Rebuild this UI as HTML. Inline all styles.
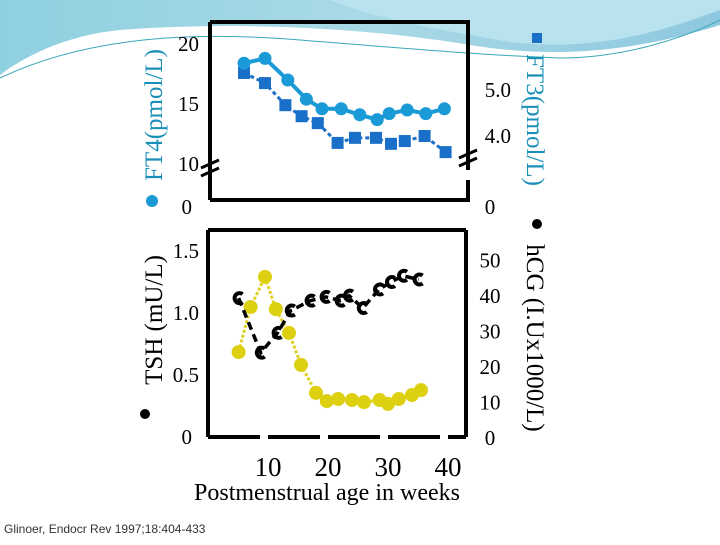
<!DOCTYPE html>
<html><head><meta charset="utf-8"><style>
html,body{margin:0;padding:0;background:#fff}
svg text{font-family:"Liberation Serif",serif}
</style></head><body>
<svg id="c" width="720" height="540" viewBox="0 0 720 540" xmlns="http://www.w3.org/2000/svg">
<defs><linearGradient id="bg" x1="0" y1="0" x2="1" y2="0"><stop offset="0" stop-color="#8fd0e0"/><stop offset="0.5" stop-color="#a9d9e6"/><stop offset="1" stop-color="#8ec8e0"/></linearGradient></defs>
<g>
<path d="M0 0 H720 V25 C640 50 560 60 470 45 C380 30 250 20 120 30 C60 36 20 60 0 75 Z" fill="url(#bg)"/>
<path d="M330 0 C380 20 440 30 510 42 C580 50 640 40 720 10 V0 Z" fill="#b8e2ee"/>
<path d="M0 78 C80 40 180 30 300 40 C400 48 480 55 560 58 C620 58 680 40 720 20" fill="none" stroke="#3aa8b8" stroke-width="1"/>
</g>
<g id="gtop"></g>
<g id="gbot"></g>
<text x="327" y="500" font-size="24" text-anchor="middle">Postmenstrual age in weeks</text>
<text x="4" y="533" font-size="12" style="font-family:'Liberation Sans',sans-serif" fill="#333">Glinoer, Endocr Rev 1997;18:404-433</text>
<text transform="translate(162,115) rotate(-90)" font-size="25" text-anchor="middle" fill="#1a8fb8">FT4(pmol/L)</text>
<circle cx="152" cy="201" r="6" fill="#1a9ad6"/>
<text transform="translate(527,120) rotate(90)" font-size="25" text-anchor="middle" fill="#1a8fb8">FT3(pmol/L)</text>
<rect x="532" y="33" width="10" height="10" fill="#1a6fc8"/>
<text transform="translate(162,320) rotate(-90)" font-size="25" text-anchor="middle">TSH (mU/L)</text>
<circle cx="145" cy="414" r="5" fill="#000"/>
<text transform="translate(527,338) rotate(90)" font-size="25" text-anchor="middle">hCG (I.Ux1000/L)</text>
<circle cx="537" cy="224" r="5" fill="#000"/>
</svg>
<script>
const weeksTop=[6,9.5,13.3,16.4,19,22.2,25.3,28.2,30.2,33.2,36.3,39.4];
const ft4=[18.4,18.8,17.0,15.4,14.6,14.6,14.1,13.7,14.2,14.5,14.2,14.6];
const weeksFt3=[6,9.5,12.9,15.6,18.3,21.6,24.5,28,30.5,32.8,36.1,39.6];
const ft3=[5.37,5.15,4.67,4.43,4.28,3.85,3.96,3.96,3.83,3.89,4.0,3.65];
const weeksHcg=[5.1,7.1,9.5,11.3,13.5,15.5,18,19.8,21.7,24,26,28.6,30,31.8,34,35.5];
const hcg=[24.2,36.9,45.4,36.3,29.6,20.6,12.7,10.4,11.0,10.7,10.1,10.7,9.6,11.0,12.1,13.5];
const weeksTsh=[5.1,8.8,11.6,13.8,17.1,19.6,22.1,23.5,25.8,28.5,30.5,32.5,35.1];
const tsh=[1.12,0.68,0.84,1.02,1.10,1.13,1.10,1.14,1.04,1.19,1.25,1.30,1.27];
const xTicks=[10,20,30,40];
const ft4Ticks=[["20",20],["15",15],["10",10]];
const ft3Ticks=[["5.0",5],["4.0",4]];
const tshTicks=[["1.5",1.5],["1.0",1.0],["0.5",0.5],["0",0]];
const hcgTicks=[["50",50],["40",40],["30",30],["20",20],["10",10],["0",0]];

const X=w=>268+(w-10)*6.0;
const yFt4=v=>164-(v-10)*12;
const yFt3=v=>136-(v-4)*46;
const yTsh=v=>437-v*124;
const yHcg=v=>438-v*3.55;
const NS="http://www.w3.org/2000/svg";
function mk(parent,tag,attrs){const e=document.createElementNS(NS,tag);for(const k in attrs)e.setAttribute(k,attrs[k]);parent.appendChild(e);return e;}
const svgEl=document.getElementById('c');
const gTop=document.getElementById('gtop'),gBot=document.getElementById('gbot');

let f=mk(gTop,'path',{d:'M210 22 H468 V170 M210 22 V200 M210 200 H468 V180',fill:'none',stroke:'#000','stroke-width':4});


f=mk(gBot,'path',{d:'M208 230 H466 M208 230 V437 M466 230 V437',fill:'none',stroke:'#000','stroke-width':4});


f=mk(gBot,'path',{d:'M208 437 H466',fill:'none',stroke:'#000','stroke-width':4,'stroke-dasharray':'52 8'});


[[210,170],[468,160]].forEach(p=>{
 const b=mk(gTop,'path',{d:`M${p[0]-9} ${p[1]-2} L${p[0]+9} ${p[1]-10} M${p[0]-9} ${p[1]+6} L${p[0]+9} ${p[1]-2}`,stroke:'#000','stroke-width':3});
 
 
});
function lab(parent,x,y,t,anchor,name){const e=mk(parent,'text',{x:x,y:y,'font-size':21,'text-anchor':anchor});e.textContent=t;
 
 }
ft4Ticks.forEach(t=>lab(gTop,199,yFt4(t[1])+7,t[0],'end','ft4-tick-label'));
lab(gTop,192,214,'0','end','ft4-tick-label');
ft3Ticks.forEach(t=>lab(gTop,511,yFt3(t[1])+7,t[0],'end','ft3-tick-label'));
lab(gTop,490,214,'0','middle','ft3-tick-label');
tshTicks.forEach(t=>lab(gBot,t[0]==='0'?192:199,yTsh(t[1])+7,t[0],'end','tsh-tick-label'));
hcgTicks.forEach(t=>lab(gBot,490,yHcg(t[1])+7,t[0],'middle','hcg-tick-label'));
xTicks.forEach(t=>{const e=mk(svgEl,'text',{x:X(t),y:476,'font-size':27,'text-anchor':'middle'});e.textContent=t;
 
 });

let l=mk(gTop,'polyline',{points:weeksFt3.map((w,i)=>X(w)+','+yFt3(ft3[i])).join(' '),fill:'none',stroke:'#1a6fc8','stroke-width':3,'stroke-dasharray':'4 3'});


weeksFt3.forEach((w,i)=>{const r=mk(gTop,'rect',{x:X(w)-6,y:yFt3(ft3[i])-6,width:12,height:12,fill:'#1a6fc8'});
 
 });
l=mk(gTop,'polyline',{points:weeksTop.map((w,i)=>X(w)+','+yFt4(ft4[i])).join(' '),fill:'none',stroke:'#1a9ad6','stroke-width':4});


weeksTop.forEach((w,i)=>{const c=mk(gTop,'circle',{cx:X(w),cy:yFt4(ft4[i]),r:6.5,fill:'#1a9ad6'});
 
 });

l=mk(gBot,'polyline',{points:weeksHcg.map((w,i)=>X(w)+','+yHcg(hcg[i])).join(' '),fill:'none',stroke:'#e0d020','stroke-width':3,'stroke-dasharray':'3 2'});


weeksHcg.forEach((w,i)=>{const c=mk(gBot,'circle',{cx:X(w),cy:yHcg(hcg[i]),r:7,fill:'#ddd010'});
 
 });
l=mk(gBot,'polyline',{points:weeksTsh.map((w,i)=>X(w)+','+yTsh(tsh[i])).join(' '),fill:'none',stroke:'#000','stroke-width':3.5,'stroke-dasharray':'8 5'});


weeksTsh.forEach((w,i)=>{const x=X(w),y=yTsh(tsh[i]);
 const c=mk(gBot,'path',{d:`M${x+4} ${y-4} A5 5 0 1 0 ${x+4} ${y+4}`,fill:'none',stroke:'#000','stroke-width':4});
 
 });
</script>
</body></html>
